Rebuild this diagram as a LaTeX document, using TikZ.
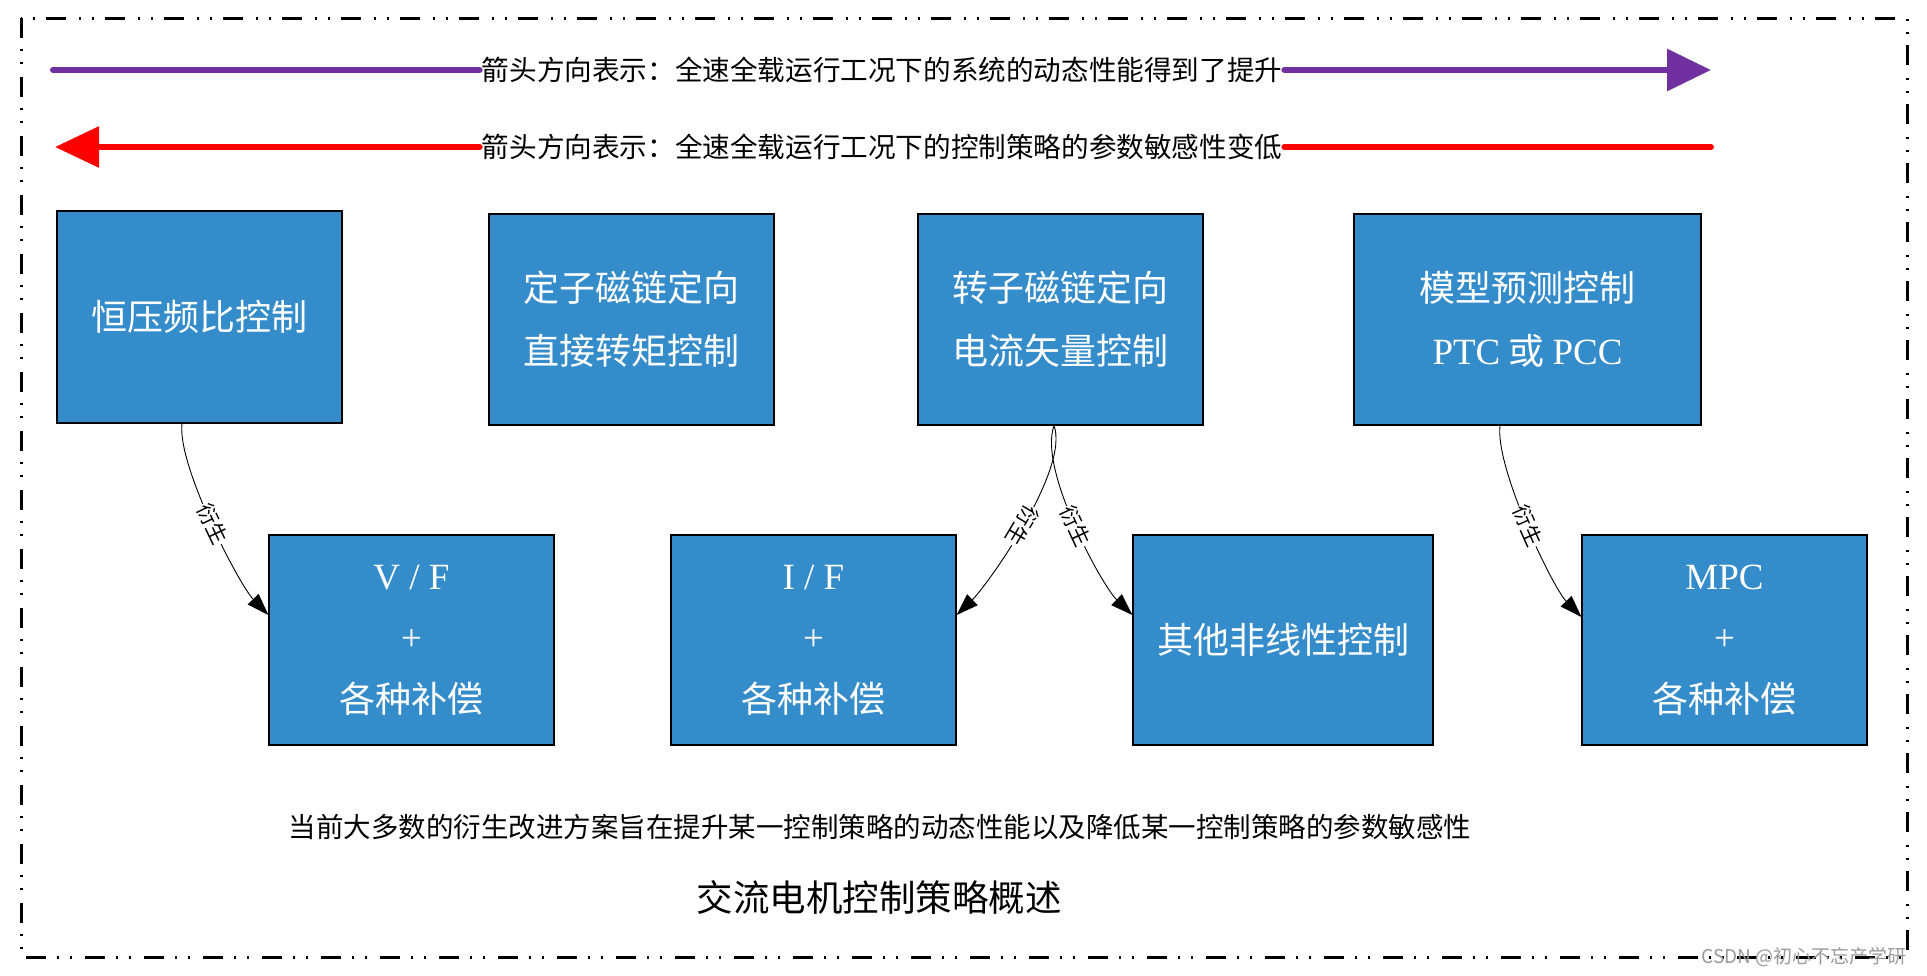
\documentclass[tikz,border=0pt]{standalone}
\usepackage{fontspec}
\setmainfont{Liberation Serif}
\newfontfamily\cjk{Noto Sans CJK SC}
\usetikzlibrary{arrows.meta,calc}
\definecolor{boxblue}{RGB}{53,140,203}
\definecolor{arrowpurple}{RGB}{112,48,160}
\definecolor{arrowred}{RGB}{255,0,0}
\newcommand{\lat}[1]{{\rmfamily\fontsize{37}{37}\selectfont #1}}
\tikzset{
  box/.style={draw=black, line width=1.2pt, fill=boxblue, text=white, inner sep=0pt,
    align=center, font=\fontsize{36}{63}\selectfont\cjk},
  frameline/.style={line width=3pt, dash pattern=on 20pt off 11pt on 2pt off 11pt on 2pt off 13pt},
  bigarrow/.style={line width=6pt, line cap=round},
  arrowtext/.style={fill=white, inner xsep=2pt, inner ysep=1pt, font=\fontsize{27.6}{30}\selectfont\cjk},
  conn/.style={line width=0.9pt, -{Triangle[length=22pt,width=15pt]}},
  edgelabel/.style={midway, sloped, fill=white, inner sep=1pt, font=\fontsize{21}{21}\selectfont\cjk},
}
\begin{document}
\begin{tikzpicture}[x=1pt,y=-1pt]
\useasboundingbox (0,0) rectangle (1927,975);

% frame
\coordinate (f1) at (21,18);
\coordinate (f2) at (1907,957);
\draw[frameline] (f1) rectangle (f2);

% top arrows
\coordinate (p1) at (53,70);
\coordinate (p2) at (1711,70);
\node[arrowtext] (t1) at (882,70) {箭头方向表示：全速全载运行工况下的系统的动态性能得到了提升};
\draw[bigarrow, arrowpurple] (p1) -- (t1.west);
\draw[bigarrow, arrowpurple, -{Triangle[length=44pt,width=41pt]}] (t1.east) -- (p2);

\coordinate (q1) at (55,147);
\coordinate (q2) at (1711,147);
\node[arrowtext] (t2) at (882,147) {箭头方向表示：全速全载运行工况下的控制策略的参数敏感性变低};
\draw[bigarrow, arrowred, -{Triangle[length=44pt,width=40pt]}] (t2.west) -- (q1);
\draw[bigarrow, arrowred] (t2.east) -- (q2);

% top row boxes
\node[box, minimum width=285pt, minimum height=212pt] (b1) at (199.5,317) {恒压频比控制};
\node[box, minimum width=285pt, minimum height=211pt] (b2) at (631.5,319.5) {定子磁链定向\\直接转矩控制};
\node[box, minimum width=285pt, minimum height=211pt] (b3) at (1060.5,319.5) {转子磁链定向\\电流矢量控制};
\node[box, minimum width=347pt, minimum height=211pt] (b4) at (1527.5,319.5) {模型预测控制\\\lat{PTC} 或 \lat{PCC}};

% bottom row boxes
\node[box, minimum width=285pt, minimum height=210pt, font=\fontsize{36}{61.5}\selectfont\cjk] (b5) at (411.5,640) {\lat{V / F}\\\lat{+}\\各种补偿};
\node[box, minimum width=285pt, minimum height=210pt, font=\fontsize{36}{61.5}\selectfont\cjk] (b6) at (813.5,640) {\lat{I / F}\\\lat{+}\\各种补偿};
\node[box, minimum width=300pt, minimum height=210pt] (b7) at (1283,640) {其他非线性控制};
\node[box, minimum width=285pt, minimum height=210pt, font=\fontsize{36}{61.5}\selectfont\cjk] (b8) at (1724.5,640) {\lat{MPC}\\\lat{+}\\各种补偿};

% connectors
\draw[conn] ($(b1.south)+(-17.5,0)$) .. controls +(-5,42) and +(-29,-30) .. ($(b5.west)+(0,-25)$)
  node[edgelabel] {衍生};
\draw[conn] ($(b3.south)+(-6.5,0)$) .. controls +(16,44) and +(30,-29) .. ($(b6.east)+(0,-25)$)
  node[edgelabel, allow upside down] {衍生};
\draw[conn] ($(b3.south)+(-6.5,0)$) .. controls +(-16,44) and +(-30,-29) .. ($(b7.west)+(0,-25)$)
  node[edgelabel] {衍生};
\draw[conn] ($(b4.south)+(-27.5,0)$) .. controls +(-5,42) and +(-29,-30) .. ($(b8.west)+(0,-23)$)
  node[edgelabel] {衍生};

% notes
\node[font=\fontsize{27.5}{30}\selectfont\cjk] (note) at (880,827) {当前大多数的衍生改进方案旨在提升某一控制策略的动态性能以及降低某一控制策略的参数敏感性};
\node[font=\fontsize{36.5}{38}\selectfont\cjk] (title) at (879,898) {交流电机控制策略概述};
\node[anchor=east, text=black!40, font=\fontsize{19}{19}\selectfont\cjk] (wm) at (1910,957) {CSDN @初心不忘产学研};
\end{tikzpicture}
\end{document}
